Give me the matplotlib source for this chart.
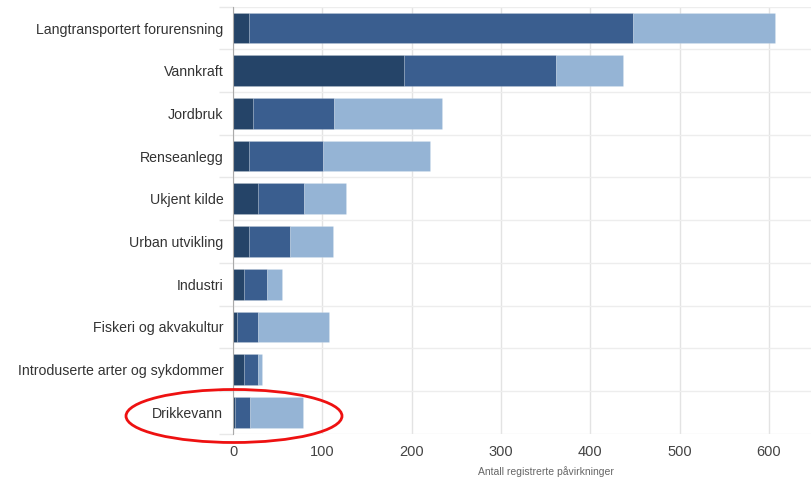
import numpy as np
import matplotlib.pyplot as plt
from matplotlib.patches import Ellipse

# ------------------------------------------------------------
# Data
# ------------------------------------------------------------
kategorier = [
    "Langtransportert forurensning",
    "Vannkraft",
    "Jordbruk",
    "Renseanlegg",
    "Ukjent kilde",
    "Urban utvikling",
    "Industri",
    "Fiskeri og akvakultur",
    "Introduserte arter og sykdommer",
    "Drikkevann",
]
stor = [18, 191, 22, 18, 28, 18, 12, 4, 12, 2]
middels = [430, 170, 91, 83, 51, 46, 26, 24, 16, 17]
liten = [159, 75, 121, 119, 48, 48, 17, 79, 5, 59]
x_ticks = [0, 100, 200, 300, 400, 500, 600]

farger = ["#254468", "#3a5e8f", "#95b4d5"]

plt.rcParams['font.family'] = ['Liberation Sans', 'DejaVu Sans']

fig = plt.figure(figsize=(8.11, 4.8), dpi=100)
ax = fig.add_axes([233 / 811, 1 - 433.6 / 480, 1 - 233 / 811, (433.6 - 6.7) / 480])

y = np.arange(len(kategorier))
venstre = np.zeros(len(kategorier))
for serie, farge in zip([stor, middels, liten], farger):
    ax.barh(y, serie, left=venstre, height=0.72, color=farge,
            edgecolor=(1, 1, 1, 0.2), linewidth=0.5, zorder=3)
    venstre += np.array(serie)

ax.set_xlim(0, 647)
ax.set_ylim(len(kategorier) - 0.5, -0.5)

ax.set_xticks(x_ticks)
ax.set_yticks(y)
ax.set_yticklabels(kategorier, fontsize=10.2, color="#333333")
ax.set_yticks(np.arange(len(kategorier) + 1) - 0.5, minor=True)

ax.tick_params(axis="y", which="major", length=0, pad=7)
ax.tick_params(axis="y", which="minor", length=10, color="#e8e8e8", width=1)
ax.tick_params(axis="x", length=0, pad=8, labelsize=10.5, labelcolor="#444444")

ax.grid(axis="x", color="#e3e3e3", linewidth=1, zorder=0)
ax.grid(axis="y", which="minor", color="#ededed", linewidth=1, zorder=0)

for side in ["top", "right", "bottom"]:
    ax.spines[side].set_visible(False)
ax.spines["left"].set_color("#aaaaaa")
ax.spines["left"].set_zorder(4)

fig.text(546 / 811, 1 - 472 / 480, "Antall registrerte påvirkninger",
         ha="center", va="center", fontsize=7.5, color="#666666")

# Red ring around "Drikkevann"
ring = Ellipse((234 / 811, 1 - 416 / 480), 216 / 811, 53 / 480,
               transform=fig.transFigure, fill=False, edgecolor="#ee1111",
               linewidth=2, zorder=10)
fig.patches.append(ring)

fig.savefig("out.png", dpi=100)
